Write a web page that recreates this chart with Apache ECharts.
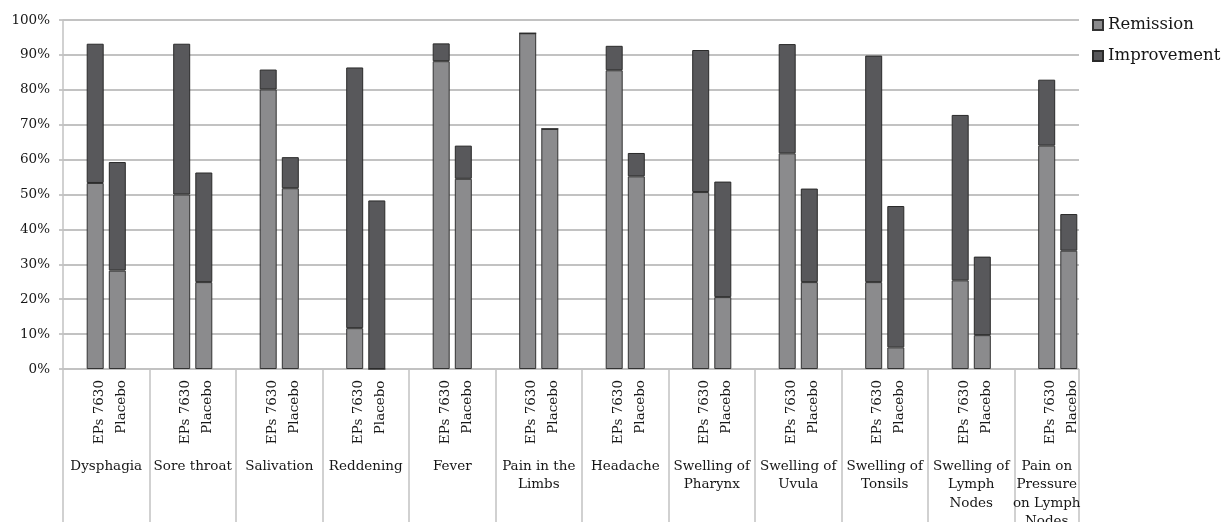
<!DOCTYPE html>
<html>
<head>
<meta charset="utf-8">
<script src="https://cdn.jsdelivr.net/npm/echarts@6/dist/echarts.min.js"></script>
<style>
html,body{margin:0;padding:0;background:#fff;}
#chart{width:1221px;height:522px;}
</style>
</head>
<body>
<div id="chart"></div>
<script>
// ---- data ----
const categories = ["Dysphagia", "Sore throat", "Salivation", "Reddening", "Fever",
  "Pain in the\nLimbs", "Headache", "Swelling of\nPharynx", "Swelling of\nUvula",
  "Swelling of\nTonsils", "Swelling of\nLymph\nNodes", "Pain on\nPressure\non Lymph\nNodes"];
const subgroups = ["EPs 7630", "Placebo"];
const seriesNames = ["Remission", "Improvement"];
const epsRemission    = [53.3, 50.0, 80.1, 11.7, 88.2, 96.2, 85.6, 50.7, 61.8, 24.9, 25.4, 64.0];
const epsImprovement  = [39.9, 43.2,  5.7, 74.7,  5.1,  0.0,  7.0, 40.7, 31.3, 64.9, 47.4, 18.9];
const plRemission     = [28.2, 24.9, 51.8,  0.0, 54.5, 68.8, 55.2, 20.6, 24.9,  6.2,  9.7, 33.9];
const plImprovement   = [31.1, 31.4,  8.9, 48.3,  9.5,  0.0,  6.7, 33.1, 26.8, 40.5, 22.5, 10.5];

// ---- layout ----
const FONT = "DejaVu Serif";
const TXT = "#161616";
const GRID_C = "#c2c2c2";
const plotLeft = 63, plotTop = 20, plotH = 349;
const groupW = 86.5;
const fullW = groupW * categories.length;   // full category band width
const visW = 1016;                            // visible gridline width

const chart = echarts.init(document.getElementById('chart'), null, {renderer: 'canvas'});

const barBase = {
  type: 'bar',
  barWidth: 17,
  xAxisIndex: 1, yAxisIndex: 1
};
const subLabel = (k) => ({
  show: true,
  position: 'bottom',
  distance: 11,
  rotate: 90,
  align: 'right',
  verticalAlign: 'middle',
  offset: [0, 4],
  fontFamily: FONT,
  fontSize: 13.5,
  color: TXT,
  formatter: () => subgroups[k]
});

const last = categories.length - 1;
const catData = categories.map((c, i) => i === last
  ? {value: c, textStyle: {padding: [0, 22, 0, 0]}} : c);

chart.setOption({
  animation: false,
  textStyle: {fontFamily: FONT},
  legend: {
    data: seriesNames,
    orient: 'vertical',
    left: 1092, top: 15,
    padding: 0,
    icon: 'rect',
    itemWidth: 10, itemHeight: 10,
    itemGap: 11,
    textStyle: {fontFamily: FONT, fontSize: 16.5, color: TXT, lineHeight: 20}
  },
  grid: [
    {left: plotLeft, top: plotTop, width: visW, height: plotH, outerBoundsMode: 'none', containLabel: false},
    {left: plotLeft, top: plotTop, width: fullW, height: plotH, outerBoundsMode: 'none', containLabel: false},
    {left: plotLeft, top: plotTop + plotH, width: visW, height: 522 - plotTop - plotH, outerBoundsMode: 'none', containLabel: false}
  ],
  xAxis: [
    {gridIndex: 0, type: 'value', show: false, min: 0, max: 1},
    {gridIndex: 1, type: 'category', data: catData,
      axisLine: {show: false}, axisTick: {show: false}, splitLine: {show: false},
      axisLabel: {interval: 0, margin: 88, fontFamily: FONT, fontSize: 13.5, color: TXT,
        lineHeight: 18.5, verticalAlign: 'top'}},
    {gridIndex: 2, type: 'value', min: 0, max: visW / groupW, interval: 1,
      axisLine: {show: false}, axisTick: {show: false}, axisLabel: {show: false},
      splitLine: {show: true, lineStyle: {color: GRID_C, width: 1.5}}}
  ],
  yAxis: [
    {gridIndex: 0, type: 'value', min: 0, max: 100, interval: 10,
      axisLine: {show: true, lineStyle: {color: GRID_C, width: 1.5}},
      axisTick: {show: true, length: 4, lineStyle: {color: GRID_C, width: 1.8}},
      splitLine: {show: true, lineStyle: {color: GRID_C, width: 1.8}},
      axisLabel: {formatter: '{value}%', margin: 13, fontFamily: FONT, fontSize: 13.5, color: TXT}},
    {gridIndex: 1, type: 'value', min: 0, max: 100, show: false},
    {gridIndex: 2, type: 'value', show: false}
  ],
  series: [
    Object.assign({}, barBase, {name: seriesNames[0], stack: 'eps', data: epsRemission,
      itemStyle: {color: '#8b8b8d', borderColor: '#333', borderWidth: 1}, label: subLabel(0)}),
    Object.assign({}, barBase, {name: seriesNames[1], stack: 'eps', data: epsImprovement,
      itemStyle: {color: '#58585b', borderColor: '#2a2a2a', borderWidth: 1}}),
    Object.assign({}, barBase, {name: seriesNames[0], stack: 'pl', data: plRemission,
      itemStyle: {color: '#8b8b8d', borderColor: '#333', borderWidth: 1}, label: subLabel(1)}),
    Object.assign({}, barBase, {name: seriesNames[1], stack: 'pl', data: plImprovement, barGap: '30%',
      itemStyle: {color: '#58585b', borderColor: '#2a2a2a', borderWidth: 1}})
  ]
});
</script>
</body>
</html>
